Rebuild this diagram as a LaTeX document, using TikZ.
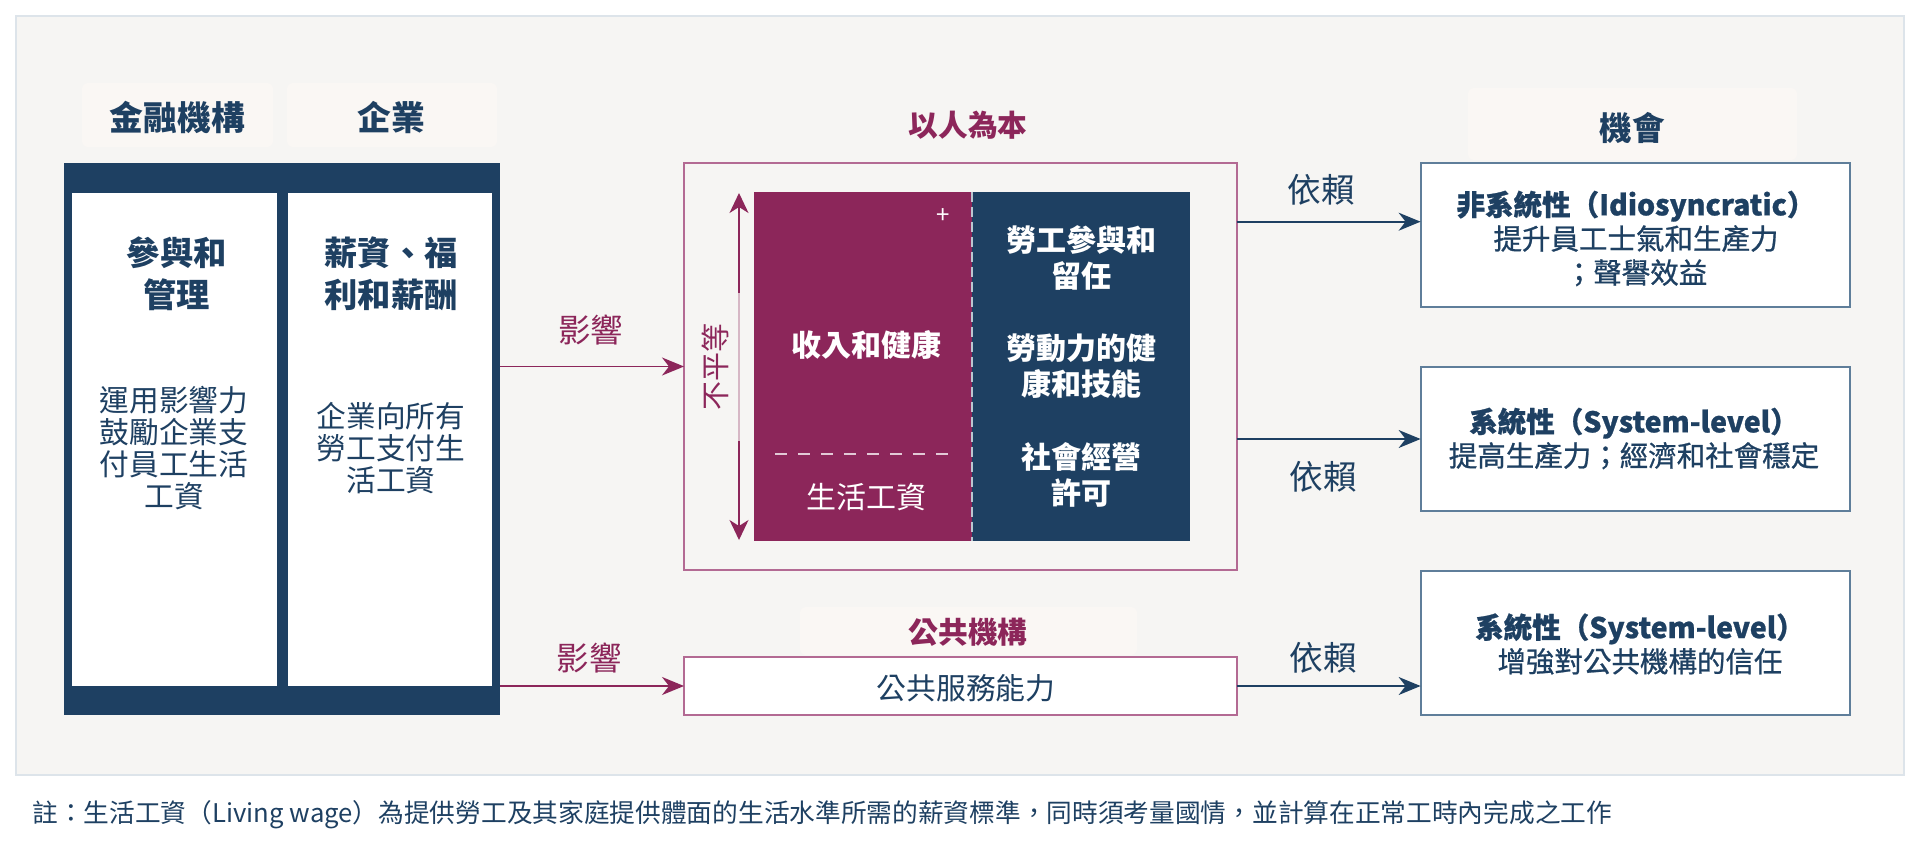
\documentclass[tikz,border=0pt]{standalone}
\usepackage{fontspec}
\setmainfont{Noto Sans CJK TC}
\newfontfamily\mediumfont{Noto Sans CJK TC}[FakeBold=0.8]
\usetikzlibrary{arrows.meta,fit}
\definecolor{navy}{HTML}{1E4062}
\definecolor{maroon}{HTML}{8C265A}
\definecolor{panelbg}{HTML}{F6F5F3}
\definecolor{tilebg}{HTML}{FAF7F4}
\definecolor{panelline}{HTML}{DDE4EA}
\definecolor{pinkline}{HTML}{B36A93}
\definecolor{boxline}{HTML}{5F7E9A}
\newcommand{\fsz}[2]{\fontsize{#1}{#2}\selectfont}
\begin{document}
\begin{tikzpicture}[x=0.5pt,y=-0.5pt,
  rect/.style={inner sep=0pt, outer sep=0pt},
  tile/.style={rect, fill=tilebg, rounded corners=3pt},
  hdrnavy/.style={font=\bfseries\fsz{16.9}{20}, text=navy, inner sep=0pt},
  hdrmaroon/.style={font=\bfseries\fsz{14.85}{18}, text=maroon, inner sep=0pt},
  coltitle/.style={font=\bfseries\fsz{16.65}{21}, text=navy, align=center, inner sep=0pt},
  colbody/.style={font=\fsz{14.85}{16}, text=navy, align=center, inner sep=0pt},
  wbold/.style={font=\bfseries\fsz{15}{18}, text=white, align=center, inner sep=0pt},
  wreg/.style={font=\fsz{15}{18}, text=white, align=center, inner sep=0pt},
  rtxt/.style={font=\mediumfont\fsz{14.25}{17}, text=navy, align=center, inner sep=0pt},
  infl/.style={font=\fsz{16.25}{18}, text=maroon, inner sep=0pt},
  dep/.style={font=\fsz{16.8}{18}, text=navy, inner sep=0pt},
  marrow/.style={draw=maroon, line width=0.9pt, -{Stealth[length=11pt,width=9pt,inset=3.5pt]}},
  narrow/.style={draw=navy, line width=0.9pt, -{Stealth[length=11pt,width=9pt,inset=3.5pt]}},
  oppbox/.style={rect, fill=white, draw=boxline, line width=1pt},
]
\path[use as bounding box] (0,0) rectangle (1920,841);
% panel
\node[rect, fill=panelbg, draw=panelline, line width=1pt, fit={(16,16)(1904,775)}] (panel) {};
% header tiles
\node[tile, fit={(82,83)(273,147)}] (tfin) {};
\node[tile, fit={(287,83)(497,147)}] (tent) {};
\node[tile, fit={(1468,88)(1797,160)}] (topp) {};
\node[tile, fit={(800,607)(1137,655)}] (tpub) {};
\node[hdrnavy] (hfin) at (177.5,117) {金融機構};
\node[hdrnavy] (hent) at (391,117) {企業};
\node[hdrmaroon] (hpeople) at (968,125) {以人為本};
\node[font=\bfseries\fsz{16.25}{20}, text=navy, inner sep=0pt] (hopp) at (1632,128) {機會};
\node[hdrmaroon] (hpub) at (968,632) {公共機構};
% left dark box
\node[rect, fill=navy, fit={(64,163)(500,715)}] (dark) {};
\node[rect, fill=white, fit={(72,193)(277,686)}] (colfin) {};
\node[rect, fill=white, fit={(288,193)(492,686)}] (colent) {};
\node[coltitle] (fintitle) at (176.7,274) {參與和\\管理};
\node[coltitle] (enttitle) at (391,274) {薪資、福\\利和薪酬};
\node[colbody] (finbody) at (174,448) {運用影響力\\鼓勵企業支\\付員工生活\\工資};
\node[colbody] (entbody) at (391,448) {企業向所有\\勞工支付生\\活工資};
% people-centred box
\node[rect, draw=pinkline, line width=1pt, fit={(684,163)(1236.7,570)}] (pink) {};
\node[rect, fill=maroon, fit={(753.8,191.7)(972,540.7)}] (income) {};
\node[rect, fill=navy, fit={(972,191.7)(1190,540.7)}] (licence) {};
\draw[white!70!navy, line width=0.8pt, dash pattern=on 5pt off 2.5pt] (income.north east) -- (income.south east);
\draw[white!75!maroon, line width=0.8pt, dash pattern=on 6pt off 5.5pt] (774.8,454) -- (950.9,454);
\node[font=\fsz{12}{12}, text=white, inner sep=0pt] (plus) at (943,216) {+};
\node[wbold] (tincome) at (866.7,345) {收入和健康};
\node[wreg] (tlw) at (866.7,496.7) {生活工資};
\node[wbold] (teng) at (1081,257.5) {勞工參與和\\留任};
\node[wbold] (thealth) at (1081,366.5) {勞動力的健\\康和技能};
\node[wbold] (tlic) at (1081,475) {社會經營\\許可};
% inequality arrow
\coordinate (ineqtop) at (739,193);
\coordinate (ineqbot) at (739,540);
\draw[maroon, line width=0.8pt, {Stealth[length=10pt,width=9.5pt,inset=3pt]}-{Stealth[length=10pt,width=9.5pt,inset=3pt]}] (ineqtop) -- (ineqbot);
\draw[maroon!30!panelbg, line width=0.8pt] (739,293) -- (739,441);
\node[font=\fsz{14.5}{16}, text=maroon, rotate=90, inner sep=0pt] (ineq) at (715.5,366.7) {不平等};
% public box
\node[rect, fill=white, draw=pinkline, line width=1pt, fit={(684,657)(1236.7,715)}] (pub) {};
\node[font=\fsz{14.9}{18}, text=navy, inner sep=0pt] (pubtxt) at (966,688) {公共服務能力};
% opportunity boxes
\node[oppbox, fit={(1420.6,163)(1850,307)}] (opp1) {};
\node[oppbox, fit={(1420.6,367)(1850,511)}] (opp2) {};
\node[oppbox, fit={(1420.6,571)(1850,715)}] (opp3) {};
\node[rtxt] (opp1t) at (1636,238.5) {{\bfseries 非系統性（Idiosyncratic）}\\提升員工士氣和生產力\\；聲譽效益};
\node[rtxt] (opp2t) at (1634,438.5) {{\bfseries 系統性（System-level）}\\提高生產力；經濟和社會穩定};
\node[rtxt] (opp3t) at (1640,644) {{\bfseries 系統性（System-level）}\\增強對公共機構的信任};
% influence arrows
\draw[marrow] (dark.east |- pink.west) -- (pink.west);
\draw[marrow] (dark.east |- pub.west) -- (pub.west);
\node[infl] (inf1) at (590.8,330) {影響};
\node[infl] (inf2) at (589,658) {影響};
% dependence arrows
\coordinate (r1) at (1300,221.7);
\draw[narrow] (pink.east |- r1) -- (opp1.west |- r1);
\draw[narrow] (pink.east |- opp2.west) -- (opp2.west);
\draw[narrow] (pub.east) -- (pub.east -| opp3.west);
\node[dep] (dep1) at (1321,190) {依賴};
\node[dep] (dep2) at (1323.5,476.7) {依賴};
\node[dep] (dep3) at (1323,658) {依賴};
% note
\node[anchor=west, font=\fsz{12.85}{15}, text=navy, inner sep=0pt] (note) at (32,815) {註：生活工資（Living wage）為提供勞工及其家庭提供體面的生活水準所需的薪資標準，同時須考量國情，並計算在正常工時內完成之工作};
\end{tikzpicture}
\end{document}
